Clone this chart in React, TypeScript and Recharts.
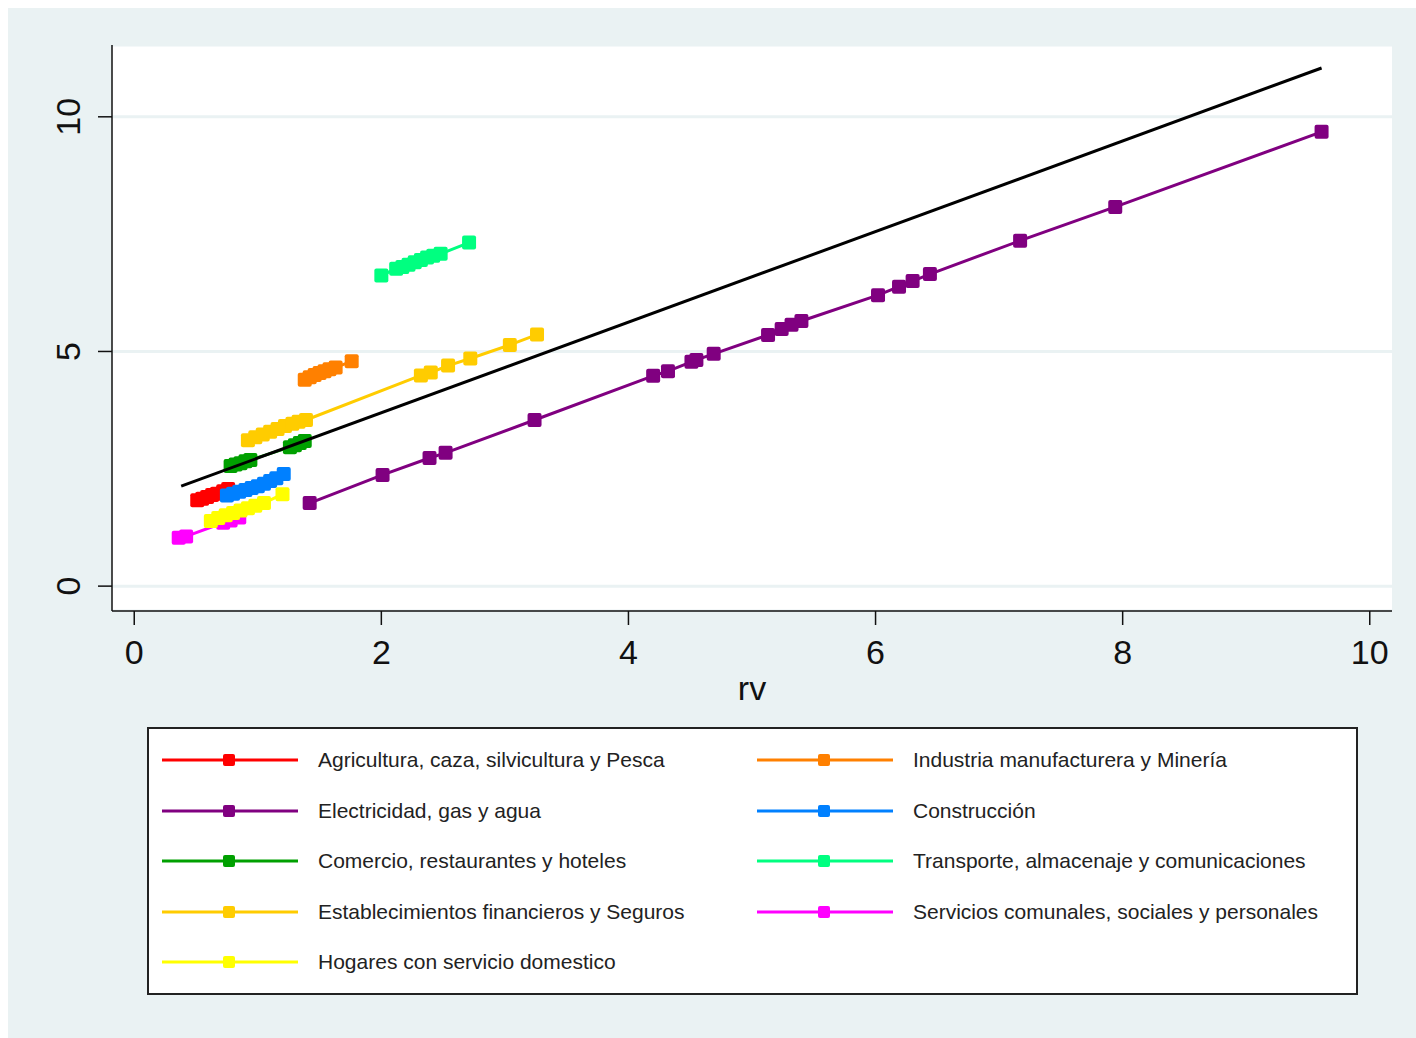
import { CartesianGrid, Scatter, ScatterChart, XAxis, YAxis } from "recharts";

type Pt = { x: number; y: number };

const agricultura: Pt[] = [
  { x: 0.51, y: 1.83 }, { x: 0.55, y: 1.86 }, { x: 0.59, y: 1.9 }, { x: 0.63, y: 1.94 },
  { x: 0.67, y: 1.97 }, { x: 0.72, y: 2.02 }, { x: 0.76, y: 2.07 },
];
const industria: Pt[] = [
  { x: 1.38, y: 4.4 }, { x: 1.42, y: 4.45 }, { x: 1.46, y: 4.5 }, { x: 1.5, y: 4.54 },
  { x: 1.54, y: 4.58 }, { x: 1.58, y: 4.62 }, { x: 1.63, y: 4.66 }, { x: 1.76, y: 4.79 },
];
const electricidad: Pt[] = [
  { x: 1.42, y: 1.77 }, { x: 2.01, y: 2.37 }, { x: 2.39, y: 2.73 }, { x: 2.52, y: 2.84 },
  { x: 3.24, y: 3.54 }, { x: 4.2, y: 4.48 }, { x: 4.32, y: 4.58 }, { x: 4.51, y: 4.78 },
  { x: 4.55, y: 4.82 }, { x: 4.69, y: 4.95 }, { x: 5.13, y: 5.35 }, { x: 5.24, y: 5.48 },
  { x: 5.32, y: 5.57 }, { x: 5.4, y: 5.65 }, { x: 6.02, y: 6.2 }, { x: 6.19, y: 6.38 },
  { x: 6.3, y: 6.5 }, { x: 6.44, y: 6.65 }, { x: 7.17, y: 7.36 }, { x: 7.94, y: 8.08 },
  { x: 9.61, y: 9.68 },
];
const construccion: Pt[] = [
  { x: 0.75, y: 1.93 }, { x: 0.8, y: 1.97 }, { x: 0.85, y: 2.01 }, { x: 0.9, y: 2.05 },
  { x: 0.95, y: 2.09 }, { x: 1.0, y: 2.13 }, { x: 1.05, y: 2.18 }, { x: 1.1, y: 2.24 },
  { x: 1.15, y: 2.3 }, { x: 1.21, y: 2.39 },
];
const comercio: Pt[] = [
  { x: 0.78, y: 2.56 }, { x: 0.82, y: 2.59 }, { x: 0.86, y: 2.62 }, { x: 0.9, y: 2.66 },
  { x: 0.94, y: 2.69 }, { x: 1.26, y: 2.96 }, { x: 1.3, y: 3.0 }, { x: 1.34, y: 3.05 },
  { x: 1.38, y: 3.09 },
];
const transporte: Pt[] = [
  { x: 2.0, y: 6.62 }, { x: 2.12, y: 6.76 }, { x: 2.17, y: 6.8 }, { x: 2.22, y: 6.85 },
  { x: 2.27, y: 6.9 }, { x: 2.32, y: 6.95 }, { x: 2.37, y: 7.0 }, { x: 2.42, y: 7.04 },
  { x: 2.48, y: 7.08 }, { x: 2.71, y: 7.32 },
];
const financieros: Pt[] = [
  { x: 0.92, y: 3.11 }, { x: 0.98, y: 3.17 }, { x: 1.04, y: 3.23 }, { x: 1.1, y: 3.29 },
  { x: 1.16, y: 3.35 }, { x: 1.22, y: 3.41 }, { x: 1.28, y: 3.46 }, { x: 1.33, y: 3.5 },
  { x: 1.39, y: 3.54 }, { x: 2.32, y: 4.49 }, { x: 2.4, y: 4.55 }, { x: 2.54, y: 4.7 },
  { x: 2.72, y: 4.85 }, { x: 3.04, y: 5.14 }, { x: 3.26, y: 5.36 },
];
const servicios: Pt[] = [
  { x: 0.36, y: 1.03 }, { x: 0.42, y: 1.06 }, { x: 0.72, y: 1.35 }, { x: 0.78, y: 1.4 },
  { x: 0.85, y: 1.46 },
];
const hogares: Pt[] = [
  { x: 0.62, y: 1.39 }, { x: 0.68, y: 1.45 }, { x: 0.74, y: 1.51 }, { x: 0.8, y: 1.56 },
  { x: 0.86, y: 1.61 }, { x: 0.92, y: 1.66 }, { x: 0.98, y: 1.71 }, { x: 1.05, y: 1.77 },
  { x: 1.2, y: 1.96 },
];
const fitLine: Pt[] = [
  { x: 0.38, y: 2.13 },
  { x: 9.61, y: 11.04 },
];

const series = [
  { name: "Agricultura, caza, silvicultura y Pesca", color: "#ff0000", data: agricultura },
  { name: "Industria manufacturera y Minería", color: "#ff8000", data: industria },
  { name: "Electricidad, gas y agua", color: "#800080", data: electricidad },
  { name: "Construcción", color: "#0080ff", data: construccion },
  { name: "Comercio, restaurantes y hoteles", color: "#00a000", data: comercio },
  { name: "Transporte, almacenaje y comunicaciones", color: "#00ff80", data: transporte },
  { name: "Establecimientos financieros y Seguros", color: "#ffcc00", data: financieros },
  { name: "Servicios comunales, sociales y personales", color: "#ff00ff", data: servicios },
  { name: "Hogares con servicio domestico", color: "#ffff00", data: hogares },
];

const xTicks = [0, 2, 4, 6, 8, 10];
const yTicks = [0, 5, 10];

const FONT = "'Liberation Sans', Arial, sans-serif";
const BG = "#eaf2f3";

const square = (color: string) => (props: any) => {
  const { cx, cy } = props;
  if (cx == null || cy == null) return <g />;
  return <rect x={cx - 7} y={cy - 7} width={14} height={14} rx={2} fill={color} />;
};

const YTick = (props: any) => {
  const { y, payload } = props;
  return (
    <text x={60} y={y} transform={`rotate(-90 60 ${y})`} textAnchor="middle" dominantBaseline="central"
      fontSize={34} fill="#111" fontFamily={FONT}>
      {payload.value}
    </text>
  );
};

const XTick = (props: any) => {
  const { x, payload } = props;
  return (
    <text x={x} y={644} textAnchor="middle" dominantBaseline="central" fontSize={34} fill="#111" fontFamily={FONT}>
      {payload.value}
    </text>
  );
};

function LegendBox() {
  return (
    <div style={{
      position: "absolute", left: 139, top: 719, width: 1211, height: 268, boxSizing: "border-box",
      border: "2px solid #222", background: "#fff", fontFamily: FONT,
    }}>
      {series.map((s, i) => {
        const row = Math.floor(i / 2);
        const col = i % 2;
        const cy = 31 + row * 50.5;
        const lx = col === 0 ? 13 : 608;
        return (
          <div key={s.name}>
            <svg width={136} height={14} style={{ position: "absolute", left: lx, top: cy - 7 }}>
              <line x1={0} x2={136} y1={7} y2={7} stroke={s.color} strokeWidth={3} />
              <rect x={61} y={1} width={12} height={12} rx={2} fill={s.color} />
            </svg>
            <div style={{
              position: "absolute", left: lx + 156, top: cy - 13, fontSize: 21, lineHeight: "26px",
              color: "#222", whiteSpace: "nowrap",
            }}>
              {s.name}
            </div>
          </div>
        );
      })}
    </div>
  );
}

export default function App() {
  return (
    <div style={{ position: "absolute", left: 8, top: 8, width: 1408, height: 1030, background: BG }}>
      <ScatterChart width={1408} height={720} margin={{ top: 37, right: 24, bottom: 0, left: 0 }}>
        <CartesianGrid vertical={false} stroke={BG} strokeWidth={3} fill="#fff" fillOpacity={1} />
        <XAxis
          type="number"
          dataKey="x"
          domain={[-0.18, 10.18]}
          ticks={xTicks}
          allowDataOverflow
          height={117}
          tickSize={14}
          tick={XTick}
          axisLine={{ stroke: "#111", strokeWidth: 1.5 }}
          tickLine={{ stroke: "#111", strokeWidth: 1.5 }}
          label={{
            content: () => (
              <text x={744} y={680} textAnchor="middle" dominantBaseline="central" fontSize={34} fill="#111" fontFamily={FONT}>
                rv
              </text>
            ),
          }}
        />
        <YAxis
          type="number"
          dataKey="y"
          domain={[-0.53, 11.53]}
          ticks={yTicks}
          allowDataOverflow
          width={104}
          tickSize={14}
          tick={YTick}
          axisLine={{ stroke: "#111", strokeWidth: 1.5 }}
          tickLine={{ stroke: "#111", strokeWidth: 1.5 }}
        />
        {series.map((s) => (
          <Scatter
            key={s.name}
            name={s.name}
            data={s.data}
            fill={s.color}
            line={{ stroke: s.color, strokeWidth: 3 }}
            shape={square(s.color)}
            isAnimationActive={false}
          />
        ))}
        <Scatter
          name="fit"
          data={fitLine}
          fill="#000"
          line={{ stroke: "#000", strokeWidth: 3 }}
          shape={() => <g />}
          isAnimationActive={false}
        />
      </ScatterChart>
      <LegendBox />
    </div>
  );
}
